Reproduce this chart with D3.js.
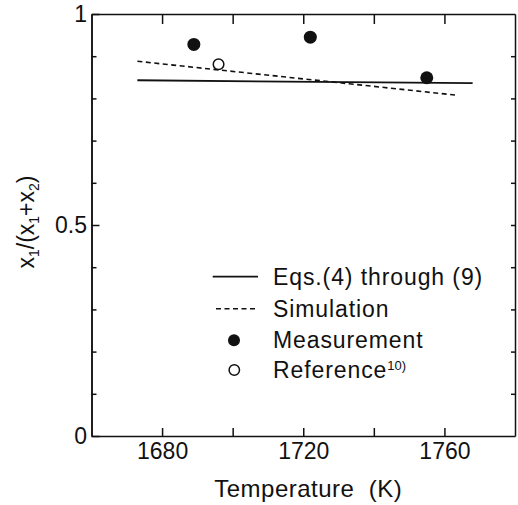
<html>
  <head>
    <style>
      body { margin: 0; background: #fff; }
      text { font-family: "Liberation Sans", Arial, Helvetica, sans-serif; fill: #111; }
    </style>
  </head>
  <body>
    <script src="https://d3js.org/d3.v7.min.js"></script>

    <svg id="chart" width="518" height="505"></svg>

    <script>
      // values
      const eqLine = [
        { t: 1673, v: 0.843 },
        { t: 1768, v: 0.836 },
      ];
      const simLine = [
        { t: 1673, v: 0.888 },
        { t: 1763, v: 0.808 },
      ];
      const measured = [
        { t: 1689, v: 0.928 },
        { t: 1722, v: 0.945 },
        { t: 1755, v: 0.849 },
      ];
      const reference = [{ t: 1696, v: 0.881 }];

      const xTicks = [1680, 1700, 1720, 1740, 1760];
      const xLabels = [1680, 1720, 1760];
      const yMajor = [0, 0.5, 1];
      const yMinor = [0.1, 0.2, 0.3, 0.4, 0.6, 0.7, 0.8, 0.9];
      const legendItems = ['Eqs.(4) through (9)', 'Simulation', 'Measurement', 'Reference'];

      const svg = d3.select('#chart');
      const mLeft = 91.5, mRight = 515, mTop = 14, mBottom = 436;

      const x = d3.scaleLinear().domain([1660, 1780]).range([mLeft, mRight]);
      const y = d3.scaleLinear().domain([0, 1]).range([mBottom, mTop]);

      const styleAxis = (g) => {
        g.selectAll('path, line').attr('stroke', '#111').attr('stroke-width', 1.5);
        g.selectAll('text').attr('fill', '#111').style('font-size', '23px')
          .style('font-family', '"Liberation Sans", Arial, sans-serif');
      };

      // bottom axis, ticks point inward
      svg.append('g')
        .attr('transform', `translate(0,${mBottom})`)
        .call(d3.axisBottom(x).tickValues(xTicks).tickSizeInner(-8).tickSizeOuter(0).tickPadding(7)
          .tickFormat((d) => (xLabels.includes(d) ? d : '')))
        .call(styleAxis);

      // top axis
      svg.append('g')
        .attr('transform', `translate(0,${mTop})`)
        .call(d3.axisTop(x).tickValues(xTicks).tickSizeInner(-10).tickSizeOuter(0).tickFormat(''))
        .call(styleAxis);

      // left axis: minor then major
      svg.append('g')
        .attr('transform', `translate(${mLeft},0)`)
        .call(d3.axisLeft(y).tickValues(yMinor).tickSizeInner(-5).tickSizeOuter(0).tickFormat(''))
        .call(styleAxis);
      svg.append('g')
        .attr('transform', `translate(${mLeft},0)`)
        .call(d3.axisLeft(y).tickValues(yMajor).tickSizeInner(-8).tickSizeOuter(0).tickPadding(4.5)
          .tickFormat((d) => (d === 0 || d === 1 ? d : d3.format('.1f')(d))))
        .call(styleAxis);

      // right axis
      svg.append('g')
        .attr('transform', `translate(${mRight},0)`)
        .call(d3.axisRight(y).tickValues(yMinor.concat([0.5])).tickSizeInner(-4).tickSizeOuter(0).tickFormat(''))
        .call(styleAxis);

      const line = d3.line().x((d) => x(d.t)).y((d) => y(d.v));

      svg.append('path').datum(eqLine)
        .attr('d', line).attr('fill', 'none').attr('stroke', '#111').attr('stroke-width', 1.8);

      svg.append('path').datum(simLine)
        .attr('d', line).attr('fill', 'none').attr('stroke', '#111').attr('stroke-width', 1.6)
        .attr('stroke-dasharray', '5,3.5');

      svg.selectAll('circle.meas').data(measured).enter().append('circle')
        .attr('class', 'meas')
        .attr('cx', (d) => x(d.t)).attr('cy', (d) => y(d.v)).attr('r', 6.5)
        .attr('fill', '#111');

      svg.selectAll('circle.ref').data(reference).enter().append('circle')
        .attr('class', 'ref')
        .attr('cx', (d) => x(d.t)).attr('cy', (d) => y(d.v)).attr('r', 5.3)
        .attr('fill', '#fff').attr('stroke', '#111').attr('stroke-width', 1.5);

      // legend
      const legend = svg.append('g');
      const rowY = [276.7, 308.7, 340.3, 370];
      legend.append('line').attr('x1', 212.7).attr('x2', 258).attr('y1', rowY[0]).attr('y2', rowY[0])
        .attr('stroke', '#111').attr('stroke-width', 1.8);
      legend.append('line').attr('x1', 216).attr('x2', 257).attr('y1', rowY[1]).attr('y2', rowY[1])
        .attr('stroke', '#111').attr('stroke-width', 1.6).attr('stroke-dasharray', '5,3.5');
      legend.append('circle').attr('cx', 234).attr('cy', rowY[2]).attr('r', 6).attr('fill', '#111');
      legend.append('circle').attr('cx', 234.3).attr('cy', rowY[3]).attr('r', 5.2)
        .attr('fill', '#fff').attr('stroke', '#111').attr('stroke-width', 1.5);

      legend.selectAll('text').data(legendItems).enter().append('text')
        .attr('x', 273)
        .attr('y', (_, i) => rowY[i] + 8)
        .style('font-size', '23px')
        .style('letter-spacing', '0.9px')
        .attr('xml:space', 'preserve')
        .text((d) => d);
      legend.select('text:last-child').append('tspan')
        .attr('dy', -8).style('font-size', '13px').style('letter-spacing', '0px').text('10)');

      // axis titles
      svg.append('text')
        .attr('x', (mLeft + mRight) / 2 + 5).attr('y', 497)
        .attr('text-anchor', 'middle')
        .style('font-size', '24px').style('letter-spacing', '0.5px')
        .attr('xml:space', 'preserve')
        .text('Temperature  (K)');

      const yTitle = svg.append('text')
        .attr('transform', 'translate(34,222) rotate(-90)')
        .attr('text-anchor', 'middle')
        .style('font-size', '23px');
      yTitle.append('tspan').text('x');
      yTitle.append('tspan').attr('dy', 5).style('font-size', '14px').text('1');
      yTitle.append('tspan').attr('dy', -5).text('/(x');
      yTitle.append('tspan').attr('dy', 5).style('font-size', '14px').text('1');
      yTitle.append('tspan').attr('dy', -5).text('+x');
      yTitle.append('tspan').attr('dy', 5).style('font-size', '14px').text('2');
      yTitle.append('tspan').attr('dy', -5).text(')');
    </script>
  </body>
</html>
